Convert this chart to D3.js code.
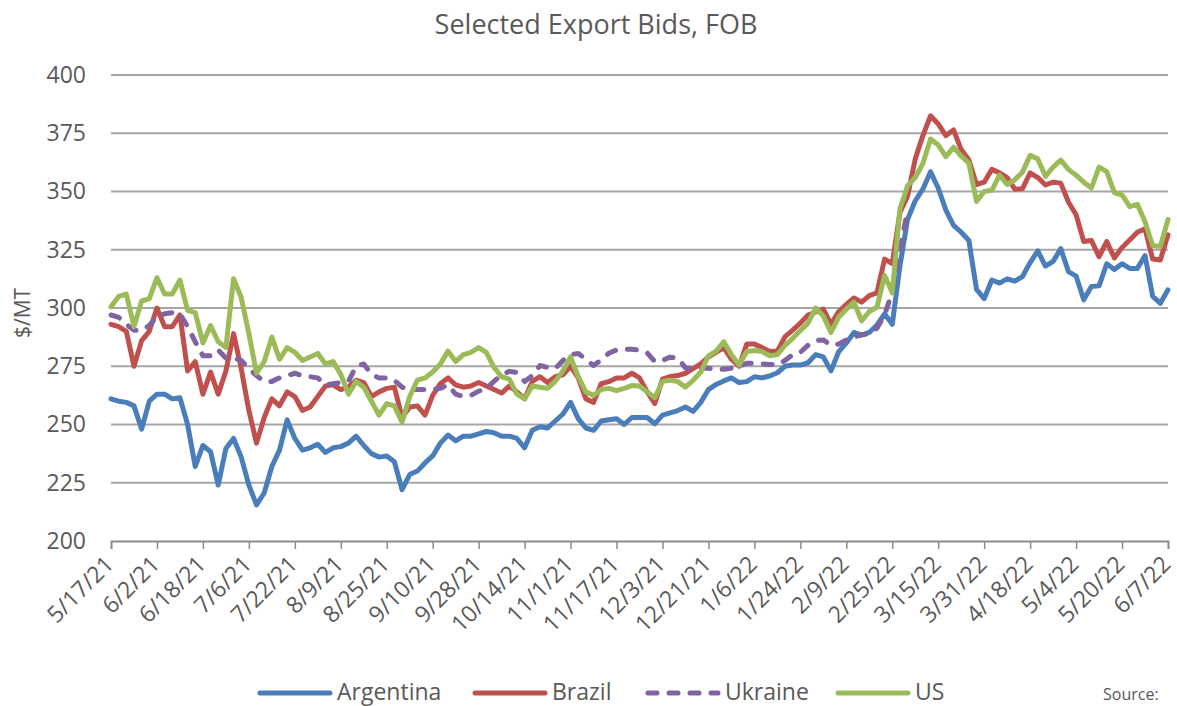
<!DOCTYPE html>
<html><head><meta charset="utf-8">
<script src="https://cdn.jsdelivr.net/npm/d3@7"></script>
<style>
body{margin:0;background:#fff;}
svg{display:block;font-family:"Open Sans",sans-serif;}
</style>
</head><body>
<svg id="chart" width="1177" height="706"></svg>
<script>
// ---- data (one sample every 2 trading days) ----
const title = "Selected Export Bids, FOB";
const yLabel = "$/MT";
const tickLabels = ["5/17/21","6/2/21","6/18/21","7/6/21","7/22/21","8/9/21","8/25/21","9/10/21","9/28/21","10/14/21","11/1/21","11/17/21","12/3/21","12/21/21","1/6/22","1/24/22","2/9/22","2/25/22","3/15/22","3/31/22","4/18/22","5/4/22","5/20/22","6/7/22"];
const daysPerTick = 12;
const daysPerSample = 2;
const yTicks = [200,225,250,275,300,325,350,375,400];
const seriesNames = ["Argentina","Brazil","Ukraine","US"];
const seriesColors = ["#4a7ebb","#c0504d","#8064a2","#9bbb59"];

const argentina = [261,260,259.5,258,248,260,263,263,261,261.5,250,232,241,238.3,224,239.7,244,236,224,215.5,220.6,232,239,252,
244,239,240,241.5,238,240,240.5,242,245,241,237.5,236,236.5,234,222,228.5,230,233.5,236.5,242,245.5,243,245,
245,246,247,246.5,245,245,244,240,247.5,249,248.5,251.5,254.5,259.5,252.5,248.5,247.5,251.5,252,252.5,250,253,253,253,
250.3,254,255,256,257.5,255.6,259.5,265,267.2,268.7,270,268,268.4,270.5,270,270.8,272.2,275,275.5,275.5,276.5,280,279,
273,281.2,285,289.5,288.4,289.5,292.7,297.5,293,318,338,346,351,358.5,351.5,342,335.5,332.5,329,308,304,312,
310.7,312.5,311.5,313.5,319.5,324.5,318,320,325.5,315.6,313.7,303.5,309.2,309.5,319,316.5,319,317,317,322.5,305,302,307.8];

const brazil = [293,292,290,275,286,290,300,292,292,297,273,277,263,272.5,263,273,289,274,256,242,253,261,258,264,
262,256,257.5,262,266.5,267,265,266,269,268,262,264,265.5,266,253,257.5,258,254,262.5,267.5,270,267,266,
266.5,268,266.5,265,263.5,266.5,264,261,268.5,270.5,268,270.5,271.3,275,270,261,259.5,267.5,268.4,270,270,272,270,264,
259,269.5,270.6,271,272,274,276,279,281,283,278,275,284.5,284.5,283,281.3,281.5,287.7,290.5,293.5,297,298.3,299.5,
293,298.5,301.5,304.3,302.5,305.3,306.5,321,319,341,348,364,374,382.5,379,374,376.4,368,363.5,353,354,359.5,
358,356,351,351.2,358,356,352.8,354,353.6,345.5,340,328.5,329,322,328.5,321.5,326,329.2,332.5,334,321,320.6,331.4];

const ukraine = [297,296,293,290.5,290.5,292.5,296.5,297.5,298,297.5,292,285.5,279.5,279.5,282,278.5,278.5,277.5,274,271,268.5,268.5,270,271,
272,271,270.5,270,267,267.5,268,268.5,275,276,271.5,270,270,269,266,265,265,265,265,265.5,267,263,262,
262.5,264.3,265.5,268.5,271.3,272.8,272.3,268.5,271,275.3,274.5,274,277.5,280,280.5,278,275.3,277.7,280.6,282,282.3,282.3,282,280.8,
277,277.5,278.9,278.5,274.3,274,274.2,274.1,273.7,273.7,274.1,275,276.3,276.3,276,275.8,275.5,277.5,280,281,284,286,286.3,
284,284.5,286.3,287.5,288.5,289,291.3,297,307,325,342,null,null,null,null,null,null,null,null,null,null,null,
null,null,null,null,null,null,null,null,null,null,null,null,null,null,null,null,null,null,null,null,null,null,null];

const us = [300.5,305,306,292,303,304,313,306,306,312,299,298,285,292.5,285.5,283,312.6,304.5,289,272,277,287.5,278,283,
281,277.5,279,280.5,276,277,271.5,263,268.5,266,260,254,259,258,251,262,269,270,272.5,276,281.5,277,280,
281,283,281,274.5,270.5,269.5,263,261,266.5,266,265.5,268.5,273,279,270.5,264,262.5,265,265.5,264.5,265.5,266.7,266.5,264,
261.5,268.5,269,268.4,266,269,272.5,279.5,281.5,285.5,280,275.5,281.3,281.8,281.3,279.5,280,284,287,290.3,293.5,300,296.5,
289.5,296,299.5,302.5,294.5,298.5,300.3,314,306.5,342.5,352.5,356,362,372.5,370,365,369,365.2,362.2,345.7,350,350.5,
357,353,355,358.3,365.5,364,356.5,360.5,363.5,359.5,357,354,351.5,360.5,358.5,349.5,348.5,343.5,344.5,337,326.8,326.4,338];

// ---- layout ----
const svg = d3.select("#chart");
const plotLeft = 111, plotRight = 1168, plotTop = 75, plotBottom = 541;
const textColor = "#595959";
const lineWidth = 5;
const dash = "9,12";
const lastDay = (tickLabels.length - 1) * daysPerTick;
const x = d3.scaleLinear().domain([0, lastDay]).range([plotLeft, plotRight]);
const y = d3.scaleLinear().domain([200, 400]).range([plotBottom, plotTop]);

// title
svg.append("text").attr("x", 596).attr("y", 34).attr("text-anchor", "middle")
  .attr("font-size", 27).attr("fill", textColor).text(title);

// gridlines
svg.append("g").selectAll("line").data(yTicks.filter(v => v > 200)).join("line")
  .attr("x1", plotLeft).attr("x2", plotRight)
  .attr("y1", d => y(d)).attr("y2", d => y(d))
  .attr("stroke", "#a6a6a6").attr("stroke-width", 1.8);

// y axis labels
const yAxis = d3.axisLeft(y).tickValues(yTicks).tickSize(0).tickPadding(25);
const gy = svg.append("g").attr("transform", `translate(${plotLeft},0)`).call(yAxis);
gy.select(".domain").remove();
gy.selectAll("text").attr("font-size", 23).attr("fill", textColor).attr("font-family", "Open Sans");

// y title
svg.append("text").attr("transform", `translate(30,${(plotTop + plotBottom) / 2 + 5}) rotate(-90)`)
  .attr("text-anchor", "middle").attr("font-size", 21).attr("fill", textColor).text(yLabel);

// x axis
const tickDays = tickLabels.map((_, i) => i * daysPerTick);
const xAxis = d3.axisBottom(x).tickValues(tickDays).tickSize(8)
  .tickFormat((d, i) => tickLabels[i]);
const gx = svg.append("g").attr("transform", `translate(0,${plotBottom})`).call(xAxis);
gx.select(".domain").attr("stroke", "#8c8c8c").attr("stroke-width", 1.8);
gx.selectAll(".tick line").attr("stroke", "#8c8c8c").attr("stroke-width", 1.5);
gx.selectAll("text").attr("font-size", 23).attr("fill", textColor).attr("font-family", "Open Sans")
  .attr("text-anchor", "end").attr("x", -15).attr("y", 12).attr("dy", "0.35em")
  .attr("transform", "rotate(-45)");

// series
const series = [argentina, brazil, ukraine, us];
const line = d3.line()
  .defined(d => d != null)
  .x((d, i) => x(i * daysPerSample))
  .y(d => y(d));
series.forEach((vals, si) => {
  const p = svg.append("path").datum(vals)
    .attr("fill", "none").attr("stroke", seriesColors[si])
    .attr("stroke-width", lineWidth).attr("stroke-linejoin", "round").attr("stroke-linecap", "round")
    .attr("d", line);
  if (seriesNames[si] === "Ukraine") p.attr("stroke-dasharray", dash);
});

// legend
const legendX = [260, 475, 648, 838];
const lg = svg.append("g");
seriesNames.forEach((name, i) => {
  const g = lg.append("g").attr("transform", `translate(${legendX[i]},693)`);
  const l = g.append("line").attr("x1", 0).attr("x2", 70).attr("y1", 0).attr("y2", 0)
    .attr("stroke", seriesColors[i]).attr("stroke-width", lineWidth).attr("stroke-linecap", "round");
  if (name === "Ukraine") l.attr("stroke-dasharray", dash);
  g.append("text").attr("x", 77).attr("y", 7).attr("font-size", 23).attr("fill", textColor).text(name);
});

// source note at the bottom-right edge
svg.append("text").attr("x", 1103).attr("y", 700).attr("font-size", 16).attr("fill", textColor).text("Source:");
</script>
</body></html>
